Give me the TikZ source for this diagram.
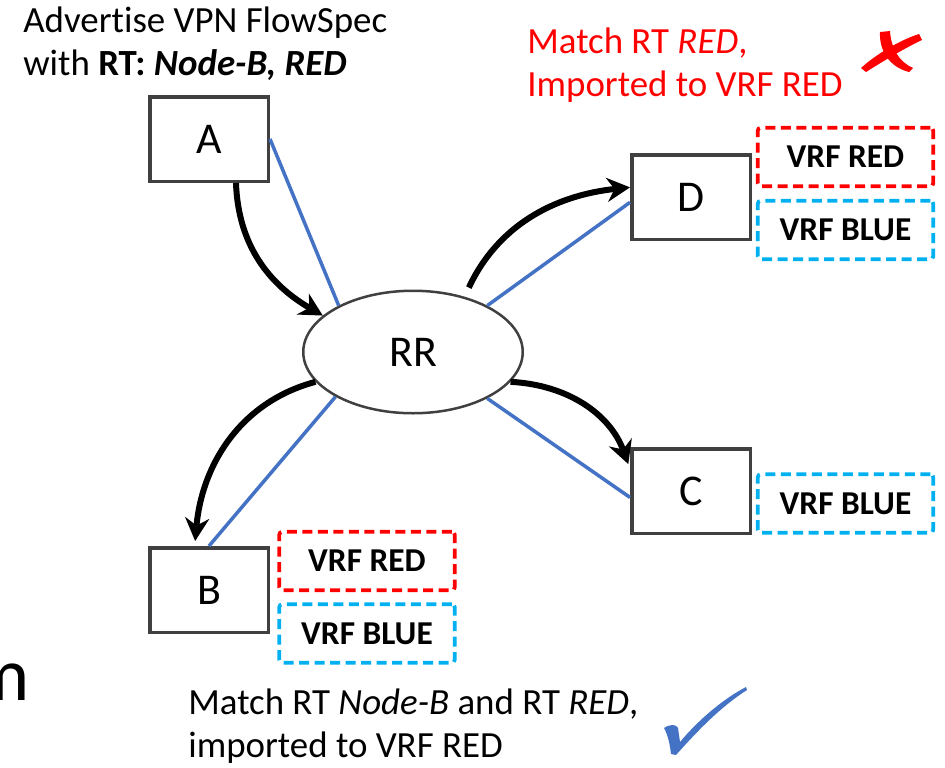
\documentclass[tikz,border=0pt]{standalone}
\usepackage{fontspec}
\setmainfont[RawFeature={-liga;-calt;-clig}]{Carlito}
\usetikzlibrary{shapes.geometric,arrows.meta}
\definecolor{boxgray}{HTML}{404040}
\definecolor{linkblue}{HTML}{4472C4}
\definecolor{vrfcyan}{HTML}{00B0F0}
\tikzset{
    router/.style={draw=boxgray, line width=0.7mm, minimum width=23.7mm, minimum height=16.9mm, inner sep=0pt, font=\fontsize{25}{30}\selectfont},
    vrfbox/.style={dash pattern=on 2mm off 1.1mm, line width=0.75mm, rounded corners=0.6mm, minimum width=35.1mm, minimum height=11.7mm, inner sep=0pt, font=\fontsize{19}{22}\selectfont\bfseries},
    redvrf/.style={vrfbox, draw=red},
    bluevrf/.style={vrfbox, draw=vrfcyan},
    link/.style={linkblue, line width=0.7mm},
    flow/.style={line width=1.2mm, -{Stealth[length=4.6mm, width=4.8mm]}},
    note/.style={anchor=base west, align=left, inner sep=0pt, font=\fontsize{21}{24.2}\selectfont},
}
\begin{document}
\begin{tikzpicture}[x=0.2mm, y=-0.2mm]
    \useasboundingbox (0,0) rectangle (945,767);
    % routers and route reflector
    \node[router] (A) at (209,139) {A};
    \node[router] (D) at (691,197) {D};
    \node[router] (C) at (691,491) {C};
    \node[router] (B) at (209,590) {B};
    \node[ellipse, draw=boxgray, line width=0.5mm, minimum width=43.9mm, minimum height=24.5mm, inner sep=0pt, font=\fontsize{25}{30}\selectfont] (RR) at (413,352) {RR};
    % vrfs
    \node[redvrf] (dred) at (845.5,157) {VRF RED};
    \node[bluevrf] (dblue) at (845.5,230) {VRF BLUE};
    \node[bluevrf] (cblue) at (845.5,503.5) {VRF BLUE};
    \node[redvrf] (bred) at (367,561) {VRF RED};
    \node[bluevrf] (bblue) at (367,633.5) {VRF BLUE};
    % sessions
    \draw[link] (A.east) -- (RR.148);
    \draw[link] (D.185) -- (RR.32);
    \draw[link] (B.north) -- (RR.210);
    \draw[link] (C.186) -- (RR.-32);
    % flowspec advertisement
    \draw[flow] ([xshift=5.4mm]A.south) to[out=-88, in=150] (RR.158);
    \draw[flow, shorten <=2mm] (RR.47) to[out=65, in=186] (D.171);
    \draw[flow, shorten >=1mm] (RR.197) to[out=195, in=85] (B.108);
    \draw[flow, shorten >=1mm] (RR.-17) to[out=-3, in=110] (C.160);
    % notes
    \node[note] (adv) at (23,75) {Advertise VPN FlowSpec\\with \textbf{RT:} \textbf{\textit{Node-B, RED}}};
    \node[note, text=red] (dnote) at (527,96) {Match RT \textit{RED},\\Imported to VRF RED};
    \node[note] (bnote) at (188,757) {Match RT \textit{Node-B} and RT \textit{RED},\\imported to VRF RED};
    \node[anchor=base east, inner sep=0pt, font=\fontsize{43}{50}\selectfont] (cutm) at (30,700) {m};
    % cross and tick
    \fill[red] (880,32) .. controls (879,50) and (889,67) .. (909,72) -- (913,68) .. controls (899,62) and (891,48) .. (890,31) -- cycle;
    \fill[red] (919,34) .. controls (900,40) and (875,55) .. (861,68) -- (866,72) .. controls (885,60) and (905,48) .. (922,40) -- cycle;
    \fill[linkblue] (664,728) .. controls (670,724) and (676,724) .. (678,728) -- (680,742) .. controls (700,718) and (725,698) .. (746,687) -- (747,690) .. controls (722,706) and (700,728) .. (676,755) -- (671,754) .. controls (670,745) and (668,735) .. cycle;
\end{tikzpicture}
\end{document}
